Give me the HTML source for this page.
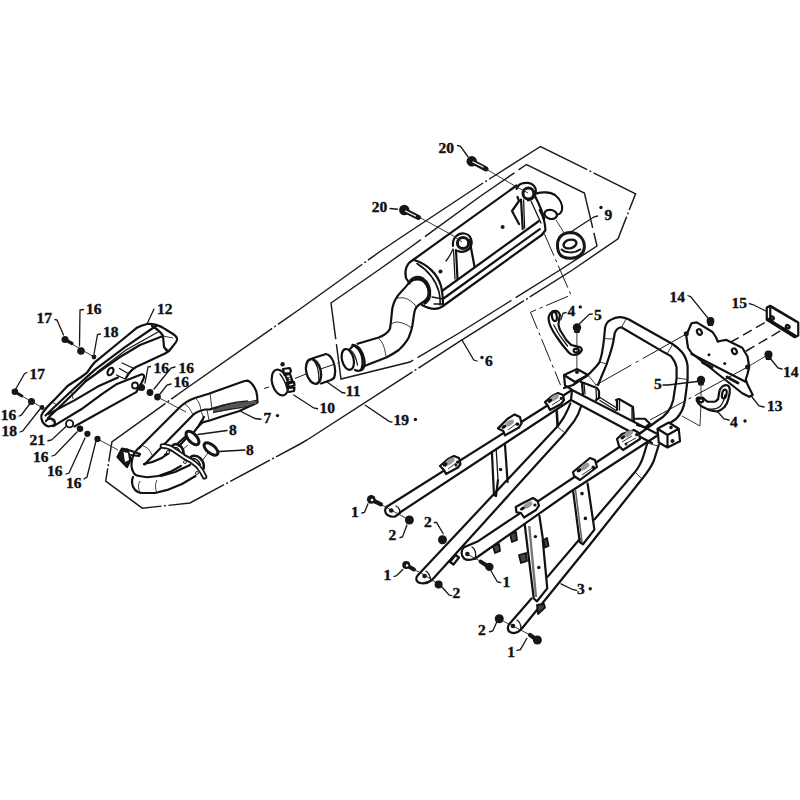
<!DOCTYPE html>
<html><head><meta charset="utf-8">
<style>
html,body{margin:0;padding:0;background:#fff;}
svg{display:block;}
text{font-family:"Liberation Serif",serif;font-weight:bold;font-size:15.5px;fill:#111;stroke:#111;stroke-width:0.4;}
.l{fill:none;stroke:#111;stroke-width:2.2;stroke-linecap:round;stroke-linejoin:round;}
.t{fill:none;stroke:#161616;stroke-width:1.3;stroke-linecap:round;}
.th{fill:none;stroke:#222;stroke-width:0.9;}
.dd{fill:none;stroke:#1a1a1a;stroke-width:1.45;stroke-dasharray:66.04 2.5 2 2.5 123.24 2.5 2 2.5 103.69 2.5 2 2.5 138.61 2.5 2 2.5 113.18 2.5 2 2.5 64.58 2.5 2 2.5 129.41 2.5 2 2.5 125.17 2.5 2 2.5 160.83 2.5 2 2.5 45.01 2.5 2 2.5 60.37 2.5 2 2.5 77.66 2.5 2 2.5 20.52 0;}
.dh{fill:none;stroke:#1a1a1a;stroke-width:1.45;stroke-dasharray:110 5;}
.cl{fill:none;stroke:#1a1a1a;stroke-width:1.0;stroke-dasharray:14 4 2 4;}
.f{fill:#161616;stroke:none;}
</style></head><body>
<svg width="800" height="800" viewBox="0 0 800 800">
<rect width="800" height="800" fill="#fff"/>

<!-- ===== outer polygon 19* ===== -->
<path class="dd" d="M111.9 441.8 L184.75 389.5 L300 309 L380 251.5 L400 238 L480 185 L540.5 146.5 L635.6 193.75 L618 238.75 L572.5 270 L460 341.2 L307 440 L300 444 L190 503 L142.25 508.2 L105.7 481.2 Z"/>
<!-- ===== inner polygon 6* ===== -->
<path class="dh" d="M331 303 L380 269 L408 249 L480 196.5 L526.5 164.5 L584.4 193 L597 246 L560 270 L460 332.5 L410 362 L341 379 Z"/>

<!-- ===== LABELS ===== -->
<g id="labels">
<text x="36.5" y="322.5">17</text>
<text x="86" y="314.0">16</text>
<text x="103" y="337.0">18</text>
<text x="157" y="313.5">12</text>
<text x="29.6" y="379.0">17</text>
<text x="0.75" y="419.5">16</text>
<text x="1.6" y="435.9">18</text>
<text x="29.6" y="444.5">21</text>
<text x="33" y="462.1">16</text>
<text x="47" y="476.1">16</text>
<text x="66" y="487.5">16</text>
<text x="153.5" y="373.25">16</text>
<text x="178.5" y="373.25">16</text>
<text x="173.5" y="387.0">16</text>
<text x="229" y="435.0">8</text>
<text x="246" y="454.5">8</text>
<text x="263.4" y="422.5">7</text>
<text x="319.6" y="413.25">10</text>
<text x="345.75" y="396.4">11</text>
<text x="393.6" y="425.1">19</text>
<text x="485" y="365.5">6</text>
<text x="604.6" y="220.1">9</text>
<text x="438.5" y="152.5">20</text>
<text x="371.75" y="211.75">20</text>
<text x="567.6" y="316.1">4</text>
<text x="594" y="320.25">5</text>
<text x="669.5" y="302.25">14</text>
<text x="731.6" y="308.4">15</text>
<text x="783" y="376.5">14</text>
<text x="767" y="410.5">13</text>
<text x="654" y="388.5">5</text>
<text x="730" y="426.5">4</text>
<text x="577" y="593.9">3</text>
<text x="350.9" y="517.0">1</text>
<text x="388.4" y="540.1">2</text>
<text x="424" y="526.5">2</text>
<text x="383.4" y="579.5">1</text>
<text x="452.5" y="597.9">2</text>
<text x="502.4" y="587.4">1</text>
<text x="478" y="635.3">2</text>
<text x="507.2" y="656.5">1</text>
</g>
<g class="f">
<circle cx="277.5" cy="415.6" r="1.7"/>
<circle cx="415.4" cy="419.4" r="1.7"/>
<circle cx="482" cy="357.5" r="1.7"/>
<circle cx="601" cy="207.5" r="1.7"/>
<circle cx="580.25" cy="306.9" r="1.7"/>
<circle cx="745" cy="421" r="1.7"/>
<circle cx="590.25" cy="588.7" r="1.7"/>
</g>

<!-- ===== MUFFLER ===== -->
<g id="muffler">
<path class="l" d="M413 260 L516.6 185.5"/>
<path class="l" d="M413 260 C407 263 404 270 406 278 L409.5 283.5"/>
<path class="l" d="M422 305 C430 309.5 438 310 443 306"/>
<path class="l" d="M414 260 C428 264 438 275 441 286 C443 294 443 300 443 306"/>
<path class="l" d="M417 263.5 C429 271 436 281 439 292 C440 297 440.5 301 440 305" style="stroke-width:1.6"/>
<path d="M410.5 281 C413 277.5 418 276.5 422 278.5 C427 282 430 288 429.5 295 C429 299 427 302 423.5 303.5" fill="none" stroke="#161616" stroke-width="3.4"/>
<path class="l" d="M442 291 L538.6 221.25 M443.5 298.5 L539.75 229.1 M443 306 L542 234.75"/>
<path class="l" d="M539.75 210 C543 216 545.4 222 545.4 230.25 L542 234.75"/>
<path class="t" d="M432 297 L443 299 M434 304 L443.5 304"/>
<!-- front bracket -->
<path class="l" d="M453 246 C452 238 458 233 464 233.5 C470 234 473 240 471 246 C469 251 462 253 458 251"/>
<circle cx="463" cy="243" r="5.6" fill="none" stroke="#161616" stroke-width="3"/>
<circle cx="463" cy="243" r="1.6" fill="#fff"/>
<path class="l" d="M456 250 L457.5 279 M469.5 240 L474.5 266.5"/>
<path class="t" d="M453.5 250 L455 279"/>
<path class="t" d="M446 261 Q450 256 453 249"/>
<circle class="f" cx="440.5" cy="271.5" r="2"/><circle class="f" cx="502.6" cy="227" r="2"/>
<!-- rear bracket -->
<path class="l" d="M516.6 189 C518 184 523 182.5 528 182.9 C533 183.5 536 187 535.9 191 C535.8 196 533 200 528 200.5"/>
<circle cx="528.4" cy="193.5" r="5.4" fill="none" stroke="#161616" stroke-width="3"/>
<circle cx="528.4" cy="193.8" r="1.6" fill="#fff"/>
<path class="l" d="M521 199.5 L522.75 229"/>
<path class="t" d="M523.6 200 L524.6 228"/>
<path class="l" d="M535.5 197 C539 204 542.5 212 544.25 219"/>
<path class="t" d="M531 201 L541 223"/>
<path class="l" d="M517.5 197 L519 201 L512 211 L519 224"/>
<path class="l" d="M536.75 193.4 C541 192 550 191.5 555 195 C560 199 563 205 562 210 C561 213 559 214.4 557.75 214.4"/>
<ellipse class="l" cx="550.75" cy="214.4" rx="6.3" ry="4.5" transform="rotate(12 550.75 214.4)"/>
<!-- inlet pipe -->
<path class="l" d="M357.5 343.75 L378.75 337.5 C384 335.5 388 332.5 390 328.75 C391.5 320 391.5 313 392.5 307.5 C394 301 397 296 401 292 C404 289 407.5 285 410 281.25"/>
<path class="l" d="M363.75 366.25 L386.25 357.5 C392 354.5 396 352 398.75 350 C404 345 407 341 408.75 337.5 C411 332 412 328 412.5 325 C413.5 318 414 313 415 310 C416 307 417.5 306 418.75 305 L426.25 300"/>
<path class="l" d="M410 282 C414 279 419 279 423 281 C428 285 430 292 428 297 L425 301"/>
<path class="th" d="M378.75 338.5 C383 342 385 349 386 356.5 M392 323.5 C396 321 402 321.5 411 327.5 M396 298.5 C402 297 408 297 416 306"/>
<ellipse class="l" cx="347.8" cy="359.4" rx="5.8" ry="10.6" transform="rotate(-14 347.8 359.4)"/>
<path class="l" d="M350 349 C352 347 353 345.5 354 345 C359 346 363 352 364.4 360 C365 364 364 368 362.5 369.5 C360 371 357 371 355 370"/>
<path class="l" d="M352.5 345 C356 346 360 350 361.9 356 C363 361 363 366 361 370" style="stroke-width:2.4"/>
<path class="t" d="M350 350 C354 352 356 357 357.5 365"/>
</g>

<!-- sleeve 11 -->
<ellipse cx="313.5" cy="371.5" rx="7.2" ry="12.6" transform="rotate(-14 313.5 371.5)" fill="none" stroke="#161616" stroke-width="2.4"/>
<path class="t" d="M313 360 C317 363 319 370 319 381"/>
<path class="l" d="M312 358.5 L326 354 C330 355 332 358 333.5 362 C335.5 368 335.5 374 334 378 L331 380 L321 383.5"/>
<path class="t" d="M327 382 L342 392.5"/>
<!-- clamp 10 -->
<ellipse cx="280" cy="382.5" rx="7.8" ry="13.2" transform="rotate(-16 280 382.5)" fill="none" stroke="#161616" stroke-width="2.2"/>
<path class="t" d="M280 374 C283 378 286 384 287 389"/>
<circle class="f" cx="282.6" cy="364.3" r="2.2"/>
<path class="l" d="M283 369 L289.5 368 C291 370 291 372 290 373 L284 373.5 Z"/>
<path class="l" d="M284.5 375 L290 374 L292.5 381 L286 383"/>
<path class="th" d="M286 376 L290 380 M285.5 378 L291 377 M286 380.5 L291.5 379"/>
<path class="l" d="M287 384 L294 382 L294.5 385.5 L288 387 Z"/>
<path class="l" d="M288.5 388 L294.5 387.5 L294 391 L289 392"/>

<!-- centerlines -->
<path class="cl" d="M264 388.5 L269 387 M295 378.5 L306 374 M320.5 369 L341 362"/>

<!-- ===== COLLECTOR 7* ===== -->
<g id="header">
<!-- tube A -->
<path class="l" d="M139 448 L179 408 C183 404 189 400 195 398 L208.75 393.75 L226.25 387.5 L243.75 381.25 L247.5 380.6 C251 382 254 386 256.25 391.25 C257.5 396 257.5 400 257.5 402.5 L255 403.75 L238.75 411.25 L222.5 416.25 L211.25 420 L202.5 422.5 C199 425 197 428 194 432"/>
<path class="l" d="M144.5 464.5 L193 415 C196 412 199 411 205 409.5 L210 409.4 L225 405 L240 403.75 L256 401"/>
<path class="th" d="M143 446 C147 447 150 450 152 455 M184 403 C188 406 191 410 193 415 M195 398 C199 401 200 405 201 410 M200 410 C203 414 204 418 203 422 M207 410 L209 420 M210 393.5 L212 409.5"/>
<path d="M213 409.5 C222 406 232 403 245 401.5 C250 401 254 401 257 401 L256 404 C248 405 238 407 228 410 C222 411.5 217 412 213 412 Z" fill="#555"/>
<path class="th" d="M214 409 C222 405 235 402 248 401 M213 412.5 C225 410 240 408 254 405" style="stroke-width:1.3"/>
<!-- U bend 1 -->
<path class="l" d="M140.4 446.9 C137 449 134 452 132.5 458 C131 463 131.5 469 133.6 472.75 C135 475 137 476 139.25 476 L147 477.25 L158.4 476 L170.75 471.6 L180.9 466"/>
<path class="l" d="M144 464 C150 463 156 461 161.75 458 C164 456 166 455 168.5 453.6"/>
<path class="l" d="M165 455 L186 436"/>
<!-- U bend 2 -->
<path class="l" d="M133 477 C131.5 480 131.5 486 134.75 489.6 C137 492 139 493 141.5 493 L155 493 L168.5 489.6 L182 484 L195.5 476"/>
<path class="l" d="M161 476 L175 472 L190 465"/>
<path class="th" d="M140 481 C138 484 138 488 140 492.5 M157 480 C155 484 155 489 157 493"/>
<!-- o2 bung -->
<path class="l" d="M117.5 457 L122 448.5 L127 449.5 L131 459 L127 467 Z" style="fill:#1a1a1a"/>
<path d="M123.5 452 L128 453 L129 460 L125 462 Z" fill="#fff"/>
<path class="l" d="M127 449.5 L140 454 L139 456 L131 455"/>
<!-- flange bar -->
<path d="M171 448.5 C172 443.5 177 443 180.5 446 C183 448.5 184 452 183.5 456 M190 459 C191 454.5 197 455 200.5 458.5 C203.5 461.5 204.5 465 203.5 469.5" fill="#fff" stroke="#161616" stroke-width="2.6"/>
<path class="t" d="M174 447.5 C177 447 179 449 180 452 M193 458.5 C196 458.5 199 461 200.5 465"/>
<path d="M162.5 446 C166 446 170 447 173.75 449.75 C177 452 180 454 183.5 456.5 C186 458 188 459 190.25 460.25 C194 463 197 465 198.5 467 C201 470 203 473 204.5 476.75" fill="none" stroke="#161616" stroke-width="5.6" stroke-linecap="round"/>
<path d="M162.5 446 C166 446 170 447 173.75 449.75 C177 452 180 454 183.5 456.5 C186 458 188 459 190.25 460.25 C194 463 197 465 198.5 467 C201 470 203 473 204.5 476.75" fill="none" stroke="#fff" stroke-width="2" stroke-linecap="round"/>
<circle cx="168" cy="452" r="1.5" fill="#fff" stroke="#161616" stroke-width="0.9"/>
<circle cx="185" cy="462" r="1.5" fill="#fff" stroke="#161616" stroke-width="0.9"/>
<circle cx="197" cy="473" r="1.5" fill="#fff" stroke="#161616" stroke-width="0.9"/>
<!-- gaskets -->
<ellipse cx="192.5" cy="438" rx="8.3" ry="4.2" transform="rotate(47 192.5 438)" fill="none" stroke="#161616" stroke-width="3"/>
<ellipse cx="211" cy="449" rx="8.3" ry="4.2" transform="rotate(40 211 449)" fill="none" stroke="#161616" stroke-width="3"/>
<path class="l" d="M187 437.5 L179 446 M204 417 L199 425"/>
<path class="th" d="M188 445 L182 450 M208 453 L202 461"/>
<path class="t" d="M198 434.5 L227 430.5 M219 451.5 L245 450"/>
</g>

<!-- ===== HEAT SHIELD 12 ===== -->
<g id="shield">
<path class="l" d="M147 324 C152 323.5 160 325 165 329 L173 334 C176 336 177.5 338 177 340 C176 343 172 347 169 351 L165 353.5 L150 360.5 L136 367 C131 370 128 374 126 378"/>
<path class="l" d="M118 377.5 L112.9 379.75 L97.75 386.6 L74.4 400.4 L48.25 414.1"/>
<path class="l" d="M147 324 C143 325 140 326 137 327.7 L122 340 L95 362.1 C91 366 89 370 86.75 372.9 L81.25 377 L67.5 386 L53.75 400.4 C49 405 45 409 42.75 412.75 C41 415 41 417 41.4 418.25 C42 421 43 423 44.1 423.75 C45 425 47 426 48.25 426.5 L55.1 425.1"/>
<path class="l" d="M55.1 425.1 L81.25 409.3 L101.9 394.2 L117 383.9 L141.75 374.25 C144 374.5 144.5 376 143.9 377.7 L141.75 382.5 L136.25 392.1 L74.4 426.5"/>
<path class="l" d="M156 326 L153 328 L125 347.1 L95 369.6 L71.6 390.75 L45.5 415.5"/>
<path class="l" d="M163 336 L140 345 L120 357 L100 371 L86 381 L74 393 L48 418"/><path class="t" d="M158 332 L126 350 L97 372"/>
<path class="l" d="M152 326 C157 329 161 332 163 336 L164 347 L167 351"/>
<path class="th" d="M71.6 390.75 L73 399 M48 417 L56 424 M52 402 L57 405 M163 336 L173 338 M164 347 L170 351"/>
<path class="l" d="M46 421 C48 418 51 418 54 420 C55.5 422 55 424 53.5 426"/>
<ellipse class="l" cx="110.5" cy="371.5" rx="2.6" ry="4" transform="rotate(30 110.5 371.5)"/>
<path class="t" d="M122 363 L133 368 M119.5 368.5 L128 373.5 M116.5 375 L125 379"/>
<circle cx="69.6" cy="423.75" r="3.6" fill="none" stroke="#161616" stroke-width="1.9"/>
<circle cx="135" cy="385.5" r="3" fill="none" stroke="#161616" stroke-width="1.8"/>
</g>
<!-- hardware left -->
<g id="hw">
<circle class="f" cx="65" cy="339.5" r="3.5"/><path d="M65 339.5 L72 343.5" stroke="#161616" stroke-width="3.2" stroke-linecap="round"/>
<circle class="f" cx="81" cy="351" r="3.8"/><circle class="f" cx="94" cy="357" r="2.4"/>
<path class="th" d="M72 344 L94 357"/>
<circle class="f" cx="14.9" cy="391.75" r="3.3"/><path d="M14.9 391.75 L21.9 396" stroke="#161616" stroke-width="3" stroke-linecap="round"/>
<circle class="f" cx="31.5" cy="401.4" r="3.5"/><circle class="f" cx="42" cy="407.5" r="2.4"/>
<path class="th" d="M22 396 L42 407.5"/>
<circle class="f" cx="141.5" cy="387.5" r="3.6"/><circle class="f" cx="150" cy="392.5" r="3.4"/><circle class="f" cx="157.5" cy="397" r="3.4"/>
<path class="th" d="M157.5 397 L186 412"/>
<circle class="f" cx="80" cy="428.75" r="3.3"/><circle class="f" cx="87.4" cy="433.8" r="3.1"/><circle class="f" cx="97.5" cy="438.9" r="3.1"/>
<path class="th" d="M97.5 438.9 L118 450"/>
<!-- leaders -->
<path class="t" d="M55 319.5 L57 320 L63.5 335 M83.5 309.5 L80 310 L79.5 346 M100.5 334 L97.5 334.5 L94 354 M154 309 L147 324"/>
<path class="t" d="M27 372.5 L24.5 373.75 L15.75 389 M19 416 L21 415.4 L29.75 404 M20 432 L22.75 431 L40 409 M48 440.75 L51.6 440 L66.5 426 M52 456 L55 455 L77 432 M66 474 L69 473 L85 438"/>
<path class="t" d="M150.5 366.5 L148 367 L145 383 M175 367 L171 368 L154 389 M171 384 L167 385 L160 394"/>
<path class="t" d="M84 479 L87 477 L96 441"/>
</g>

<!-- ===== FRAME 3* ===== -->
<g id="frame">
<!-- upper left rail -->
<path class="l" d="M386.75 506.75 L572 390"/>
<path class="l" d="M399.5 512.75 L571 400"/>
<path class="l" d="M386.75 506.75 C384.5 509 384.5 513 387.5 515 C390 516.5 393 517 395 516.5 L399.5 513.5"/>
<path class="t" d="M396 506 C399 507 400 510 400 513"/>
<circle class="f" cx="391.25" cy="510.5" r="2.3"/>
<!-- lower left diagonal -->
<path class="l" d="M418 575 L557.6 426.25 C560 423 562 420 563.75 417.5 C566 413 568 410 570.3 403.5"/>
<path class="l" d="M432 580 L565.5 432.4 C568 429 571 425 574.25 421 C577 417 579 413 581.25 406"/>
<path class="l" d="M418 575 C415 578 416 582 420 583 C424 584 428 583 432 580"/>
<path class="t" d="M426 571 C429 573 430 576 431 580"/>
<circle class="f" cx="424.6" cy="576" r="2.3"/>
<path class="th" d="M557.6 427 L564.5 432.5"/>
<!-- upper right rail -->
<path class="l" d="M464 547.25 L477.5 541.6 L641.25 432.5"/>
<path class="l" d="M475.25 558.5 L570 492 L656.25 436.25"/>
<path class="l" d="M464 547.25 C461 550 460.5 555 464 558.5 C466 560 470 560.5 475.25 558.5"/>
<path class="t" d="M472 547 C475 549 476 553 475.5 557"/>
<circle class="f" cx="467.4" cy="554" r="2.3"/>
<!-- lower right diagonal -->
<path class="l" d="M510 623.25 L531.5 598.5 M547.25 577.1 L579.75 539 M594.4 519.5 L635 472 C639 467 642 461 643.75 455 L647.5 442.5"/>
<path class="l" d="M522.5 627.75 L590 544.5 L642 479 C647 473 651 467 653.75 461 L658.75 445"/>
<path class="l" d="M510 623.25 C507 626 507 631 511 632.5 C515 634 519 632 522.5 627.75"/>
<path class="t" d="M517 620 C520 622 521 625 521 629"/>
<circle class="f" cx="513" cy="626" r="2.3"/>
<path class="th" d="M635 472 L642 479 M647.5 443 L658 446"/>
<!-- rear cross member -->
<path class="l" d="M572 390 L657.5 434 M571 400 L629 431 L652 443"/>
<path class="l" d="M572 390 L571 400"/>
<!-- left block -->
<path class="l" d="M564 375 L577 369 L588 375 L575 382 Z M564 375 L565 385.5 L571 389"/>
<circle class="f" cx="577" cy="372" r="2"/>
<!-- channels on cross member -->
<path class="l" d="M581 382 L584 383 L597 388 L599 391 L599 398 L596 400 M582 383 L583 395"/>
<path class="t" d="M584 383.5 L585 394 M596 389 L596.5 399"/>
<path class="l" d="M616 400 L619 399 L633 407 L634 421 M617 401 L617 410"/>
<path class="t" d="M619.5 400.5 L619.5 410 M632 408 L632 420"/>
<path class="l" d="M636 418.75 L645 418.75 L650 423.75 L645 427.5 L637 425"/>
<path class="t" d="M600 397.5 L616 407.5 M600 400.5 L616 410.5"/>
<!-- right block -->
<path class="l" d="M657.5 428.75 L668.75 422.5 L678.75 428.75 L667.5 435 Z M657.5 428.75 L658.75 442.5 L667.5 447.5 L680 441.25 L678.75 428.75 M667.5 435 L667.5 447.5"/>
<circle class="f" cx="671" cy="427.5" r="1.8"/><circle class="f" cx="672.5" cy="441" r="2"/>
<!-- rear loop -->
<path class="l" d="M564 388 L573 385 L588 375 C594 369 599 364 599.6 361.9 C602 355 603 348 603.75 341.25 L605.1 327.5 C606 323 608 321 610.6 319.9 C614 318 617 317 620.25 317.2 C624 317.5 626 318 628.5 319.25 L672.5 344 C677 347 680 350 682.1 352.25 C685 356 687 361 687.6 366 L687.6 379.75 L685 400 C684 407 681 414 676 419 L670 423"/>
<path class="l" d="M598 385 L606.5 364.6 C609 357 612 349 613.4 341.25 L614.75 333 C616 330 618 328 620.25 327.5 C621.5 327.3 622 327.5 623 328.2 L661.5 350.9 C665 353 668 354 671.1 356.4 C674 360 676 364 676.6 367.4 L676.6 378.4 L673.2 400 C671 410 666 416 657 421 L641.25 432.5"/>
<path class="th" d="M603.5 338.5 L613 339 M599.5 362 L607 364 M621.5 327.5 L626 319 M667 354 L672.5 344.5 M676.5 378 L687.5 379.5 M588 375 L596 385"/>
<!-- rail tabs -->
<path class="l" style="fill:#fff" d="M498 428.4 L507.6 418.75 L514.6 414.4 L519.9 417 L521.6 423.1 L519 427.5 L505 435.4 L503.25 431 Z"/>
<path class="th" d="M504 428 L512 421 M508 430 L516 424"/>
<circle class="f" cx="517" cy="424" r="1.5"/>
<path class="l" style="fill:#fff" d="M440 466 L448 459 L454 456 L459 458 L460.5 464 L458 467.5 L446 474 L444 470 Z"/>
<path class="th" d="M445 467 L452 461 M448 469 L456 463"/>
<circle class="f" cx="456" cy="465" r="1.5"/>
<path class="l" style="fill:#fff" d="M545 402 L552 396 L558 393 L563 395 L564 400 L561 404 L550 410 L548 406 Z"/>
<path class="th" d="M549 403 L556 398 M552 405 L560 400"/>
<path class="l" style="fill:#fff" d="M573 472 L590 458 L595 460 L597 467 L580 480 L574 476 Z"/>
<path class="th" d="M579 472 L588 464 M582 475 L592 468"/>
<circle class="f" cx="593" cy="467" r="1.5"/>
<path class="l" style="fill:#fff" d="M617 439 L622 434 L634 430 L639 433 L640 439 L623 450 L619 446 Z"/>
<path class="th" d="M622 442 L632 436 M625 444 L636 438"/>
<circle class="f" cx="626" cy="444" r="1.5"/>
<path class="l" style="fill:#fff" d="M515.75 507 L524 502.5 L533 498 L537.5 501 L539 505.5 L536 510 L524 517.5 L521 513 L516.5 512.25 Z"/>
<!-- vertical plates -->
<path class="l" d="M491.9 452 L494 495 L496 496 L498 480 M505 445 L507.6 482"/>
<path class="t" d="M496.25 450.25 L498 480"/>
<circle class="f" cx="500.6" cy="469.5" r="1.7"/>
<path class="l" d="M556.75 411.4 L557.6 425.4" style="stroke-width:2.6"/>
<path class="l" d="M524.75 524.75 L533.75 598.5 L537 601.3 L547.25 588.4 L542.75 540 M539.4 515.75 L543 540"/>
<path class="th" d="M529.25 526 L536 597" style="stroke-width:2.4;stroke:#777"/>
<circle class="f" cx="535.4" cy="536.6" r="1.7"/><circle class="f" cx="538.8" cy="567.5" r="1.7"/>
<path class="l" d="M573 490 L579.75 542 L583 544.25 L594.4 529.6 L587.6 483.5"/>
<path class="th" d="M575.5 490 L582 542" style="stroke-width:1.6;stroke:#666"/>
<circle class="f" cx="582" cy="493.6" r="1.8"/><circle class="f" cx="585.4" cy="518.4" r="1.8"/>
<!-- small hanging tabs -->
<path class="l" d="M450 562 L455.5 555 L459 557.5 L453.5 564.5 Z"/>
<path d="M493 546 L499 544 L500 551 L495 553 Z M510 534 L516 532 L517 540 L512 542 Z M519 555 L526 553 L527 561 L521 563 Z M537 605 L544 604 L545 607.5 L538 614 Z M543.5 540 L547 538 L548.5 546 L545 547.5 Z" fill="#444" stroke="#111" stroke-width="1.8" stroke-linejoin="round"/>
</g>

<g id="tabdetail">
<ellipse cx="509.5" cy="423.1" rx="5" ry="2.6" transform="rotate(-33 509.5 423.1)" fill="#9a9a9a"/>
<ellipse cx="503.8" cy="426.8" rx="2.6" ry="1.6" transform="rotate(-33 503.8 426.8)" fill="#111"/>
<circle cx="517.7" cy="424.1" r="1.6" fill="#111"/>
<ellipse cx="450.2" cy="461.3" rx="5" ry="2.6" transform="rotate(-33 450.2 461.3)" fill="#9a9a9a"/>
<ellipse cx="445.1" cy="464.5" rx="2.6" ry="1.6" transform="rotate(-33 445.1 464.5)" fill="#111"/>
<circle cx="457.6" cy="462.2" r="1.6" fill="#111"/>
<ellipse cx="554.5" cy="397.6" rx="5" ry="2.6" transform="rotate(-33 554.5 397.6)" fill="#9a9a9a"/>
<ellipse cx="549.8" cy="400.7" rx="2.6" ry="1.6" transform="rotate(-33 549.8 400.7)" fill="#111"/>
<circle cx="561.3" cy="398.4" r="1.6" fill="#111"/>
<ellipse cx="585.0" cy="466.5" rx="5" ry="2.6" transform="rotate(-33 585.0 466.5)" fill="#9a9a9a"/>
<ellipse cx="579.0" cy="470.3" rx="2.6" ry="1.6" transform="rotate(-33 579.0 470.3)" fill="#111"/>
<circle cx="593.6" cy="467.5" r="1.6" fill="#111"/>
<ellipse cx="628.5" cy="433.7" rx="5" ry="2.6" transform="rotate(-33 628.5 433.7)" fill="#9a9a9a"/>
<ellipse cx="622.8" cy="437.4" rx="2.6" ry="1.6" transform="rotate(-33 622.8 437.4)" fill="#111"/>
<circle cx="636.7" cy="434.7" r="1.6" fill="#111"/>
<ellipse cx="528" cy="505" rx="5" ry="2.6" transform="rotate(-33 528 505)" fill="#9a9a9a"/>
<ellipse cx="522.5" cy="508.5" rx="2.6" ry="1.6" transform="rotate(-33 522.5 508.5)" fill="#111"/>
<circle cx="535" cy="505" r="1.6" fill="#111"/>
</g>
<!-- bracket 4 top + nut 5 -->
<path class="l" d="M552.5 311.25 C549 314 548 318 548.75 320 C549 324 550 327 556.25 336.25 L562.5 345 L568.75 352.5 C570 354 572 355 573.75 355 C577 355 580 354 581.9 350 C582 348 580 347 578.75 346.9 L571.25 345 L566.25 340 L560 330 C558.5 326 558 324 558.75 322.5 C559 318 560 316 560 315 C559 312 557 310 552.5 311.25 Z"/>
<ellipse class="l" cx="554.4" cy="316.5" rx="2.4" ry="4.6" transform="rotate(-10 554.4 316.5)"/>
<ellipse class="l" cx="576.25" cy="350.6" rx="2.6" ry="2" />
<path class="t" d="M553.75 325 L560 336 L567.5 346"/>
<circle class="f" cx="577" cy="327.5" r="4.2"/><path class="f" d="M573.5 329 L580.5 329 L579.5 333 L574.5 333 Z"/>
<path class="th" d="M576.9 333 L576.9 370"/>
<path class="t" d="M560.75 320 L563 313.25 L566 312.5 M579.5 323.75 L589.25 314.4 L592.25 314"/>
<!-- bracket 4 bottom + nut 5 -->
<path class="l" d="M698.1 397.6 C697 398 696.5 399 696.75 400.4 C698 403 699 404.5 700.9 405.9 L709.1 410 C712 411 715 411.5 717.4 411.4 C720 410.5 722.5 409 724.3 407.3 C726.5 404.5 727.8 402 728.4 399 C729.5 395 730 392 729.8 389.4 C729.5 387 728.5 385.5 727 385.25 C725 385 724 385.5 722.9 386 C721 387.5 720 389 719.5 390.75 C718.8 394 718.5 397 718.1 399 C717 400.5 716 401.5 714.6 401.75 L707.75 401.75 C705.5 400.5 704 398.5 702.25 397.6 Z"/>
<path class="t" d="M709 409 C713 409.5 717 409 720 406.5 C723 403 724.5 399 724.8 395"/>
<ellipse class="l" cx="724.3" cy="394" rx="2.2" ry="4.4" transform="rotate(12 724.3 394)"/>
<ellipse class="l" cx="701" cy="400.25" rx="2.4" ry="1.8"/>
<circle class="f" cx="701" cy="380" r="4.2"/><path class="f" d="M697.5 381.5 L704.5 381.5 L703.5 385.5 L698.5 385.5 Z"/>
<path class="th" d="M701 385 L701 396 M701 403 L700 426 L682 416"/>
<path class="t" d="M663 385 L668 385 L697 381.5 M729 420 L724 419 L718 412"/>
<!-- bracket 13 -->
<path class="l" d="M691.5 323.25 L696.75 322.4 L712.5 332 L716 337.25 L717.75 341.6 L721.25 340.75 L726.5 339.9 L742.25 347.75 L747.5 356.5 L749.25 367 L747.5 374 L745.75 379.25 L747.5 384.5 L752.75 395 L749.25 396.75 L742.25 393.25 L691.5 353 L688 347.75 L686.25 335.5 Z"/>
<path class="l" d="M691.5 354 L746 382"/>
<path class="l" d="M702.5 362.5 L712 367.5 M727 377 L738 383" style="stroke-width:2.8"/>
<ellipse class="l" cx="699.4" cy="332" rx="2.2" ry="3" transform="rotate(-30 699.4 332)"/>
<ellipse class="l" cx="734.4" cy="351.25" rx="2.2" ry="3" transform="rotate(-30 734.4 351.25)"/>
<circle class="f" cx="709" cy="354.75" r="1.5"/><circle class="f" cx="724.75" cy="363.5" r="1.5"/>
<circle class="f" cx="686.25" cy="333.75" r="2.5"/><circle class="f" cx="747.5" cy="367" r="2.5"/>
<path class="dh" d="M730 342.5 L765 322.4 M745.75 351.25 L786 327.6" style="stroke-dasharray:10 5"/>
<path class="th" d="M765 356.5 L747.5 367"/>
<path class="cl" d="M686.25 334 L595.5 385.25" style="stroke-dasharray:50 5 3 5"/>
<path class="cl" d="M747.5 367 L650 420" style="stroke-dasharray:60 4 3 4"/>
<!-- nuts 14 -->
<circle class="f" cx="710.5" cy="321" r="3.9"/><path class="f" d="M707 322 L714 322 L713 326 L708 326 Z"/>
<circle class="f" cx="768.5" cy="354.5" r="4"/><path class="f" d="M765 356 L772 356 L771 360 L766 360 Z"/>
<path class="t" d="M688 295.75 L690.6 296.6 L709 319.4 M782 369 L778 368 L770 358 M764 407 L759 406 L752 397"/>
<!-- plate 15 -->
<path class="l" d="M766.75 307.5 L770.25 305.75 L798.25 322.4 L798.25 335.5 L794.75 337.25 L766.75 319.75 Z M770.25 305.75 L770.25 318 M768 319 L796 336"/>
<path class="t" d="M772 308 L796 322"/>
<ellipse class="l" cx="772" cy="318" rx="2" ry="1.5" transform="rotate(30 772 318)"/>
<ellipse class="l" cx="787.75" cy="326.75" rx="2" ry="1.5" transform="rotate(30 787.75 326.75)"/>
<path class="t" d="M749.25 303.6 L752.75 304.5 L766.75 311.5"/>

<!-- frame hardware -->
<g id="fhw">
<circle class="f" cx="371.25" cy="499.4" r="4.3"/><path d="M371 499.5 L381 504.4" stroke="#161616" stroke-width="4.2" stroke-linecap="round"/>
<circle cx="372" cy="500" r="1.3" fill="#fff"/>
<path class="th" d="M381 504.4 L391 510 L409.4 520"/>
<circle class="f" cx="409.4" cy="520" r="4.5"/>
<circle class="f" cx="442.5" cy="539.75" r="4.5"/>
<circle class="f" cx="406.25" cy="565.1" r="4"/><path d="M406 565 L414 569.5" stroke="#161616" stroke-width="4" stroke-linecap="round"/>
<circle cx="407" cy="565.5" r="1.2" fill="#fff"/>
<path class="th" d="M414 569.5 L424.6 575 L438.6 584.4"/>
<circle class="f" cx="438.6" cy="584.4" r="4"/>
<circle class="f" cx="489.4" cy="566.9" r="4.2"/><path d="M489 567 L480.6 561.6" stroke="#161616" stroke-width="4" stroke-linecap="round"/>
<path class="th" d="M480 561 L467 554"/>
<circle class="f" cx="499.25" cy="618.75" r="4.5"/>
<path class="th" d="M499 619 L513 626 L530 635"/>
<circle class="f" cx="537.4" cy="640" r="4.5"/><path d="M537 640 L530 635" stroke="#161616" stroke-width="4.2" stroke-linecap="round"/>
<path class="t" d="M361.9 513 L364.4 512.5 L368 503.75 M400 537.5 L402.5 537 L406.9 525 M434.25 522.5 L436.5 522.5 L443.25 533.75 M394 576.5 L396.6 575.6 L402.75 569.5 M451.75 595.75 L449 594.9 L442 587 M500.75 582.6 L497.25 581.75 L490.25 569.5 M489.5 631.75 L492.75 631 L496.8 622 M517 650.4 L520.4 649.6 L526.9 638.25 M576.4 590.3 L572.4 589.5 L561 583.8"/>
</g>
<!-- ===== misc: bolts 20, seal 9, leaders ===== -->
<g id="misc">
<circle class="f" cx="471.75" cy="161.25" r="5.2"/><path d="M472 161.5 L486 169" stroke="#161616" stroke-width="5" stroke-linecap="round"/>
<path d="M473 162 L483 167" stroke="#fff" stroke-width="1.3" stroke-linecap="round"/>
<path class="th" d="M486 169 L515 186 L528 193"/>
<path class="t" d="M457.5 145.5 L460.5 146.25 L468 156.75"/>
<circle class="f" cx="404.25" cy="210" r="5.2"/><path d="M404.5 210.5 L418.5 217.5" stroke="#161616" stroke-width="5" stroke-linecap="round"/>
<path d="M405.5 211 L415.5 216" stroke="#fff" stroke-width="1.3" stroke-linecap="round"/>
<path class="th" d="M419 217 L452 235 L462 242"/>
<path class="t" d="M390 208.5 L397.5 209.25"/>
<!-- seal 9 -->
<path d="M558 250 C556 240 560 233 570 232.5 C578 232.5 584 238 584.4 246 C584.5 253 579 258 571 258.25 C563 258.5 559 255 558 250 Z" fill="none" stroke="#161616" stroke-width="3"/>
<ellipse cx="570" cy="244" rx="6.6" ry="4.2" transform="rotate(-15 570 244)" fill="none" stroke="#161616" stroke-width="2.4"/>
<path d="M561 249 C565 253 574 254 581 249" fill="none" stroke="#161616" stroke-width="2"/>
<path class="t" d="M597.5 216 L593.75 217 L570 232.5"/>
<path class="th" d="M556 220 L564.5 233.5"/>
<path class="cl" d="M544.25 233.6 L571 295 L530.5 312.25 L560.5 385" style="stroke-dasharray:24 4 3 4"/>
<!-- leaders -->
<path class="t" d="M240 411 L255 418.5 L261 419.25"/>
<path class="t" d="M365.3 405.3 L389.5 421.6 L392 422"/>
<path class="t" d="M462 340 L473.75 360 L477 361"/>
<path class="t" d="M293.75 395 L313.75 408 L317.5 408.75"/>
<path class="t" d="M342 392.5 L345 393"/>
</g>
</svg>
</body></html>
